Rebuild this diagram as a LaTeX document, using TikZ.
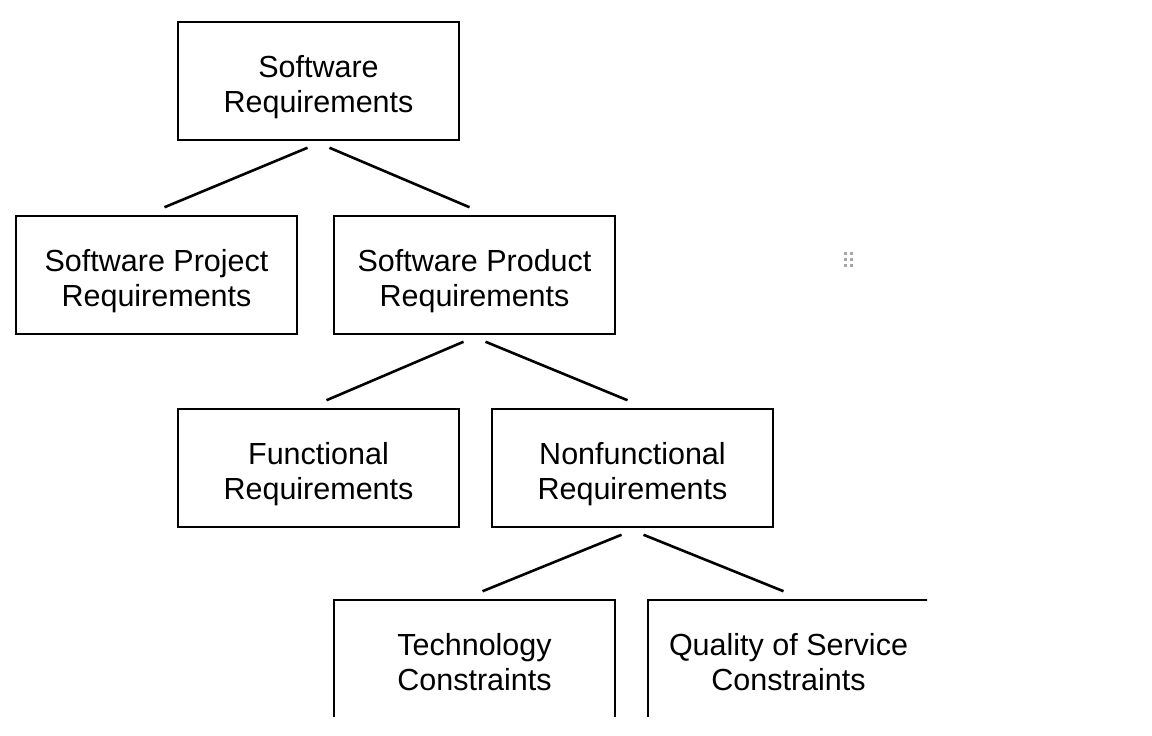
\documentclass[tikz,border=0pt]{standalone}
\usepackage{fontspec}
\setmainfont{Liberation Sans}
\usetikzlibrary{positioning}

\begin{document}
\begin{tikzpicture}[x=1pt,y=-1pt,
	req/.style={draw,line width=1.5pt,minimum width=281pt,minimum height=118pt,inner sep=0pt,align=center,text height=69pt,text depth=6.4pt,font=\fontsize{30.5}{35}\selectfont},
	link/.style={line width=2.6pt}]
	\useasboundingbox (0,0) rectangle (1152,736);
	\clip (0,0) rectangle (927,716.5);
	\node[req] at (318.5,81) (sr) {Software\\Requirements};
	\node[req] at (156.5,275) (proj) {Software Project\\Requirements};
	\node[req] at (474.5,275) (prod) {Software Product\\Requirements};
	\node[req] at (318.5,468) (func) {Functional\\Requirements};
	\node[req] at (632.5,468) (nonf) {Nonfunctional\\Requirements};
	\node[req] at (474.5,659) (tech) {Technology\\Constraints};
	\node[req] at (788.5,659) (qos) {Quality of Service\\Constraints};

	\foreach \p/\c in {sr/proj,prod/func,nonf/tech}
		\draw[link] ([xshift=-11pt,yshift=-7pt]\p.south) -- ([xshift=8pt,yshift=8pt]\c.north);
	\foreach \p/\c in {sr/prod,prod/nonf,nonf/qos}
		\draw[link] ([xshift=11pt,yshift=-7pt]\p.south) -- ([xshift=-5pt,yshift=8pt]\c.north);

	\foreach \x in {845,851}
		\foreach \y in {253,259,265}
			\fill[gray!70] (\x-1.5,\y-1.5) rectangle ++(3,3);
\end{tikzpicture}
\end{document}
